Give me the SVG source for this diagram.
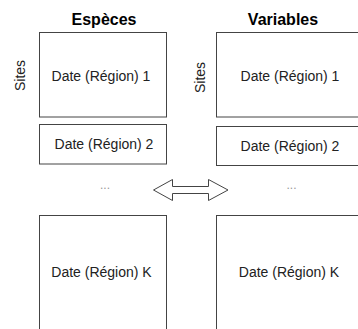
<svg xmlns="http://www.w3.org/2000/svg" width="358" height="329" viewBox="0 0 358 329">
<style>
.box{fill:#fff;stroke:#444;stroke-width:1}
.t{font-family:"Liberation Sans",Arial,sans-serif;font-size:14px;fill:#222;text-anchor:middle}
.h{font-family:"Liberation Sans",Arial,sans-serif;font-size:16px;font-weight:bold;fill:#000;text-anchor:middle}
.dots{font-family:"Liberation Sans",Arial,sans-serif;font-size:12px;fill:#999;text-anchor:middle}
</style>
<rect width="358" height="329" fill="#fff"/>
<g id="header-especes"><text class="h" x="104" y="25">Espèces</text></g>
<g id="header-variables"><text class="h" x="283" y="25">Variables</text></g>
<g id="sites-left"><text class="t" transform="translate(24.5,75.5) rotate(-90)">Sites</text></g>
<g id="sites-right"><text class="t" transform="translate(204.5,77.5) rotate(-90)">Sites</text></g>
<g id="esp-1"><rect class="box" x="39.5" y="32.5" width="127" height="84.5"/><text class="t" x="101" y="81">Date (Région) 1</text></g>
<g id="esp-2"><rect class="box" x="39.5" y="124.5" width="127" height="39.5"/><text class="t" x="104" y="148.5">Date (Région) 2</text></g>
<g id="esp-dots"><text class="dots" x="105" y="189">...</text></g>
<g id="esp-k"><rect class="box" x="39.5" y="215.5" width="127" height="130"/><text class="t" x="101.5" y="276.5">Date (Région) K</text></g>
<g id="var-1"><rect class="box" x="216.5" y="32.5" width="150" height="84.5"/><text class="t" x="290" y="81">Date (Région) 1</text></g>
<g id="var-2"><rect class="box" x="216.5" y="126.5" width="150" height="39"/><text class="t" x="290" y="150.5">Date (Région) 2</text></g>
<g id="var-dots"><text class="dots" x="291.5" y="189">...</text></g>
<g id="var-k"><rect class="box" x="216.5" y="215.5" width="150" height="130"/><text class="t" x="289" y="276.5">Date (Région) K</text></g>
<g id="connectors">
<polygon points="153.5,190 172.5,179.5 172.5,186.5 208.5,186.5 208.5,179.5 228,190 208.5,200.5 208.5,193.5 172.5,193.5 172.5,200.5" fill="#fff" stroke="#444" stroke-width="1"/>
</g>
</svg>
